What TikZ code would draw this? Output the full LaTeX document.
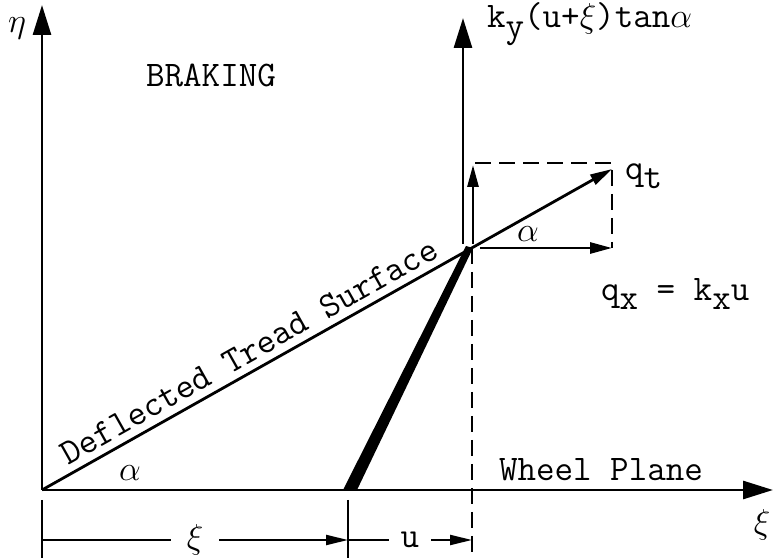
\documentclass[tikz,border=0pt]{standalone}
\usepackage{amsmath}
\usepackage{tikz}
\usetikzlibrary{arrows.meta}
\newcommand{\lowsub}[1]{\raisebox{-0.6ex}{#1}}

\begin{document}
\begin{tikzpicture}[
    x=0.5pt, y=0.5pt,  % 1 unit = 1 pixel of the sketch
    font=\fontsize{18}{21}\selectfont\ttfamily,
    axis/.style={line width=1.4pt, -{Triangle[length=15pt,width=9pt]}},
    vec/.style={line width=1.4pt, -{Triangle[length=11pt,width=5.5pt]}},
    dim/.style={line width=1.1pt, -{Triangle[length=11pt,width=5pt]}},
    guide/.style={line width=1.4pt, dash pattern=on 8pt off 4pt},
]
\useasboundingbox (-42,-68) rectangle (731,490);

% ── Key points ───────────────────────────────────────────────────────────────
\coordinate (O)     at (0,0);
\coordinate (etaTip) at (0,485);
\coordinate (xiTip) at (731,0);
\coordinate (T)     at (430,242);   % tread point
\coordinate (Q)     at (570,321);   % tip of q_t
\coordinate (axB)   at (421,246);
\coordinate (axTip) at (421,472);
\coordinate (upB)   at (431,246);
\coordinate (upTip) at (431,325);
\coordinate (rB)    at (438,242);
\coordinate (rTip)  at (570,242);
\coordinate (LT)    at (433,327);
\coordinate (RT)    at (570,327);
\coordinate (B)     at (306,0);     % foot of the bar
\coordinate (Tlow)  at (430,-68);

% ── Axes ─────────────────────────────────────────────────────────────────────
\draw[axis] (O) -- (etaTip);
\draw[axis] (O) -- (xiTip);
\draw[axis] (axB) -- (axTip);
\node[inner sep=1pt] (etaLbl) at (-25,462) {$\eta$};
\node (xiLbl)  at (720,-35) {$\xi$};
\node[anchor=west] (kyLbl) at (438,466) {k\lowsub{y}(u+$\xi$)tan$\alpha$};

% ── Deflected tread surface and bar ──────────────────────────────────────────
\draw[vec] (O) -- node[sloped, above, pos=0.38] (tread) {Deflected Tread Surface} (Q);
\fill (301,0) -- (315,0) -- (431,242) -- (424,244) -- cycle;

% ── Force components ─────────────────────────────────────────────────────────
\draw[vec] (upB) -- (upTip);
\draw[vec] (rB) -- (rTip);
\draw[guide] (LT) -- (RT) -- (rTip);
\draw[guide] (T) -- (Tlow);

% ── Labels ───────────────────────────────────────────────────────────────────
\node (braking) at (169,415) {BRAKING};
\node (wheel)   at (559,20)  {Wheel Plane};
\node (alphaO)  at (88,17)   {$\alpha$};
\node (alphaT)  at (486,256) {$\alpha$};
\node[anchor=west] (qtLbl) at (576,314) {q\lowsub{t}};
\node[anchor=west] (qxLbl) at (552,196) {q\lowsub{x} = k\lowsub{x}u};

% ── Dimensions ───────────────────────────────────────────────────────────────
\draw[line width=1.1pt] (0,-10) -- (0,-68);
\draw[line width=1.1pt] (306,-10) -- (306,-68);
\coordinate (d0) at (0,-50);
\coordinate (d1) at (306,-50);
\coordinate (d2) at (430,-50);
\draw[dim] (d0) -- node[fill=white, inner xsep=8pt] (xiDim) {$\xi$} (d1);
\draw[dim] (d1) -- node[fill=white, inner xsep=6pt] (uDim) {u} (d2);

\end{tikzpicture}
\end{document}
